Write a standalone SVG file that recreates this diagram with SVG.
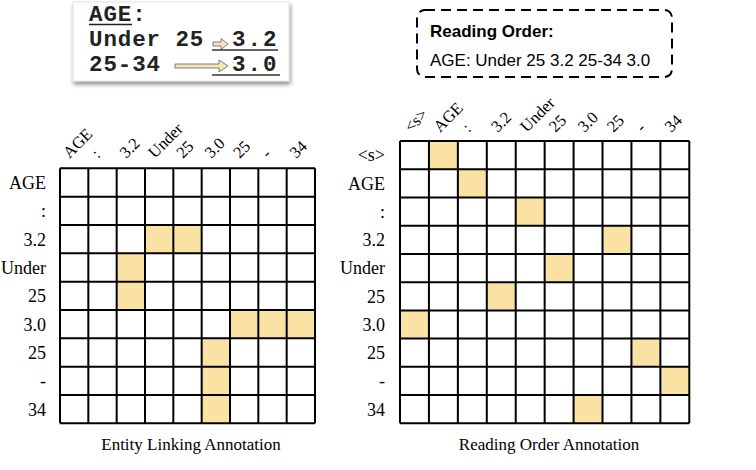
<svg xmlns="http://www.w3.org/2000/svg" width="756" height="470" viewBox="0 0 756 470">
<style>
.lbl{font-family:"Liberation Serif","Times New Roman",serif;font-size:18px;fill:#000}
.rl{text-anchor:end}
.cl{font-size:16.5px}
.cap{font-family:"Liberation Serif","Times New Roman",serif;font-size:17px;text-anchor:middle;fill:#000}
.hl{fill:#F9E2A3}
.grid{fill:none;stroke:#000;stroke-width:2}
.mono{font-family:"Liberation Mono","Courier New",monospace;font-weight:bold;font-size:22.5px;fill:#222;letter-spacing:0.9px}
.arr{fill:#FBE4A8;stroke:#6f7f96;stroke-width:1}
.sans{font-family:"Liberation Sans",Arial,sans-serif;font-size:17px;fill:#000}
</style>
<defs>
<filter id="sh" x="-10%" y="-10%" width="130%" height="140%">
<feGaussianBlur in="SourceAlpha" stdDeviation="2"/>
<feOffset dx="1" dy="3"/>
<feComponentTransfer><feFuncA type="linear" slope="0.45"/></feComponentTransfer>
<feMerge><feMergeNode/><feMergeNode in="SourceGraphic"/></feMerge>
</filter>
</defs>
<rect width="756" height="470" fill="#fff"/>

<g id="scan">
<rect x="73" y="2" width="216" height="79" fill="#fff" stroke="#e2e2e2" stroke-width="1" filter="url(#sh)"/>
<text class="mono" x="89" y="21">AGE:</text>
<line x1="89" y1="24.5" x2="132" y2="24.5" stroke="#222" stroke-width="1.5"/>
<text class="mono" x="89" y="46">Under 25</text>
<text class="mono" x="89" y="71">25-34</text>
<polygon class="arr" points="213,42 221,42 221,38.5 228,44 221,49.5 221,46 213,46"/>
<polygon class="arr" points="175,64 219,64 219,60 228,66 219,72 219,68 175,68"/>
<text class="mono" x="232" y="46" style="letter-spacing:2px">3.2</text>
<line x1="212" y1="50" x2="278" y2="50" stroke="#333" stroke-width="1.5"/>
<text class="mono" x="232" y="71" style="letter-spacing:2px">3.0</text>
<line x1="212" y1="75" x2="280" y2="75" stroke="#333" stroke-width="1.5"/>
</g>

<g id="reading-order-box">
<rect x="417" y="10" width="255" height="67" rx="8" fill="none" stroke="#000" stroke-width="2" stroke-dasharray="10 6"/>
<text class="sans" x="430" y="37" font-weight="bold">Reading Order:</text>
<text class="sans" x="430" y="66">AGE: Under 25 3.2 25-34 3.0</text>
</g>

<g id="entity-linking">
<rect x="60" y="168.33" width="255" height="255" fill="#fff"/>
<g class="hl">
<rect x="145" y="225" width="28.33" height="28.33"/>
<rect x="173.33" y="225" width="28.33" height="28.33"/>
<rect x="116.67" y="253.33" width="28.33" height="28.33"/>
<rect x="116.67" y="281.67" width="28.33" height="28.33"/>
<rect x="230" y="310" width="28.33" height="28.33"/>
<rect x="258.33" y="310" width="28.33" height="28.33"/>
<rect x="286.67" y="310" width="28.33" height="28.33"/>
<rect x="201.67" y="338.33" width="28.33" height="28.33"/>
<rect x="201.67" y="366.67" width="28.33" height="28.33"/>
<rect x="201.67" y="395" width="28.33" height="28.33"/>
</g>
<path class="grid" d="M60 168.33V423.33M88.33 168.33V423.33M116.67 168.33V423.33M145 168.33V423.33M173.33 168.33V423.33M201.67 168.33V423.33M230 168.33V423.33M258.33 168.33V423.33M286.67 168.33V423.33M315 168.33V423.33M60 168.33H315M60 196.67H315M60 225H315M60 253.33H315M60 281.67H315M60 310H315M60 338.33H315M60 366.67H315M60 395H315M60 423.33H315"/>
<g class="lbl rl">
<text x="46" y="188.8">AGE</text>
<text x="46" y="217.1">:</text>
<text x="46" y="245.5">3.2</text>
<text x="46" y="273.8">Under</text>
<text x="46" y="302.1">25</text>
<text x="46" y="330.5">3.0</text>
<text x="46" y="358.8">25</text>
<text x="46" y="387.1">-</text>
<text x="46" y="415.5">34</text>
</g>
<g class="lbl cl">
<text transform="translate(69.5,159) rotate(-45)">AGE</text>
<text transform="translate(98,159) rotate(-45)">:</text>
<text transform="translate(126.3,159) rotate(-45)">3.2</text>
<text transform="translate(154.7,159) rotate(-45)">Under</text>
<text transform="translate(183,159) rotate(-45)">25</text>
<text transform="translate(211.3,159) rotate(-45)">3.0</text>
<text transform="translate(239.7,159) rotate(-45)">25</text>
<text transform="translate(268,159) rotate(-45)">-</text>
<text transform="translate(296.3,159) rotate(-45)">34</text>
</g>
<text class="cap" x="191" y="450">Entity Linking Annotation</text>
</g>

<g id="reading-order">
<rect x="400" y="141" width="289.3" height="282.3" fill="#fff"/>
<g class="hl">
<rect x="428.93" y="141" width="28.93" height="28.23"/>
<rect x="457.86" y="169.23" width="28.93" height="28.23"/>
<rect x="515.72" y="197.46" width="28.93" height="28.23"/>
<rect x="602.51" y="225.69" width="28.93" height="28.23"/>
<rect x="544.65" y="253.92" width="28.93" height="28.23"/>
<rect x="486.79" y="282.15" width="28.93" height="28.23"/>
<rect x="400" y="310.38" width="28.93" height="28.23"/>
<rect x="631.44" y="338.61" width="28.93" height="28.23"/>
<rect x="660.37" y="366.84" width="28.93" height="28.23"/>
<rect x="573.58" y="395.07" width="28.93" height="28.23"/>
</g>
<path class="grid" d="M400 141V423.3M428.93 141V423.3M457.86 141V423.3M486.79 141V423.3M515.72 141V423.3M544.65 141V423.3M573.58 141V423.3M602.51 141V423.3M631.44 141V423.3M660.37 141V423.3M689.3 141V423.3M400 141H689.3M400 169.23H689.3M400 197.46H689.3M400 225.69H689.3M400 253.92H689.3M400 282.15H689.3M400 310.38H689.3M400 338.61H689.3M400 366.84H689.3M400 395.07H689.3M400 423.3H689.3"/>
<g class="lbl rl">
<text x="385" y="161.4">&lt;s&gt;</text>
<text x="385" y="189.6">AGE</text>
<text x="385" y="217.9">:</text>
<text x="385" y="246.1">3.2</text>
<text x="385" y="274.3">Under</text>
<text x="385" y="302.6">25</text>
<text x="385" y="330.8">3.0</text>
<text x="385" y="359">25</text>
<text x="385" y="387.3">-</text>
<text x="385" y="415.5">34</text>
</g>
<g class="lbl cl">
<text transform="translate(411,133) rotate(-45)">&lt;s&gt;</text>
<text transform="translate(440,133) rotate(-45)">AGE</text>
<text transform="translate(468.8,133) rotate(-45)">:</text>
<text transform="translate(497.8,133) rotate(-45)">3.2</text>
<text transform="translate(526.7,133) rotate(-45)">Under</text>
<text transform="translate(555.6,133) rotate(-45)">25</text>
<text transform="translate(584.5,133) rotate(-45)">3.0</text>
<text transform="translate(613.5,133) rotate(-45)">25</text>
<text transform="translate(642.4,133) rotate(-45)">-</text>
<text transform="translate(671.3,133) rotate(-45)">34</text>
</g>
<text class="cap" x="549" y="450">Reading Order Annotation</text>
</g>
</svg>
